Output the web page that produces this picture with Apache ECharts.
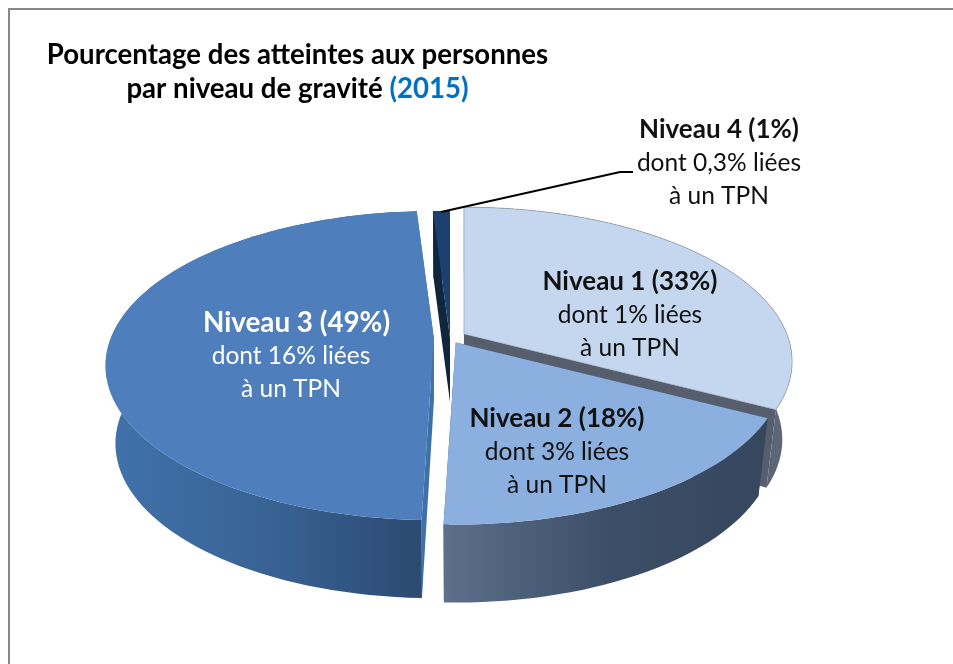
<!DOCTYPE html>
<html>
<head>
<meta charset="utf-8">
<style>
html, body { margin: 0; padding: 0; background: #fff; }
#chart { width: 953px; height: 664px; }
</style>
</head>
<body>
<div id="chart"></div>
<script src="https://cdn.jsdelivr.net/npm/echarts@6/dist/echarts.min.js"></script>
<script>
var categories = ['Niveau 1', 'Niveau 2', 'Niveau 3', 'Niveau 4'];
var values = [33, 18, 49, 1];
var tpnShares = ['1%', '3%', '16%', '0,3%'];

var FONT = 'Lato';
var center = [450, 338];
var radiusX = 323, radiusY = 149.6;   // ellipse of the top face
var perspective = 0.178;              // near rim looks bigger than far rim
var rimDepth = 78;                    // wall height on the outer rim
var apexDepth = 64;                   // wall height at the slice apex
var bottomScale = 0.97;               // bottom face is a bit narrower
var explode = [0.055, 0.03, 0.05, 0];
var paintOrder = [2, 3, 1, 4];        // z2 of each slice, far ones first

var topColors = ['#c5d7ef', '#8bb0df', '#4e7fbc', '#1c4070'];
var topStrokes = ['rgba(110,120,135,0.45)', null, null, null];
var cutColors = ['#565e6d', '#3d4f68', '#3f70a8', '#10263f'];
var wallColors = [
    ['#4a5361', '#4a5361', '#5f6876'],
    ['#5c708c', '#3d4f68', '#35465d'],
    ['#4072aa', '#396395', '#2c4a72'],
    ['#10263f', '#10263f', '#10263f']
];
var labelPos = [[630, 315], [557, 452], [291, 356], [719, 163]];
var labelColors = ['#111', '#111', '#fff', '#111'];
var boldSizes = [26, 26, 27.8, 26];
var boldShift = [0, 0, 11, 0];        // the Niveau 3 headline sits right of its lines

var total = values.reduce(function (a, b) { return a + b; }, 0);

function project(deg) {
    var rad = deg * Math.PI / 180;
    var X = Math.sin(rad), Z = -Math.cos(rad);
    var s = 1 / (1 - perspective * Z);
    return { x: radiusX * X * s, y: radiusY * Z * s, s: s };
}

// point of the top face, relative to the slice apex
function topPoint(apex, deg) {
    var p = project(deg);
    return [apex[0] + p.x, apex[1] + p.y];
}

function bottomPoint(apex, deg) {
    var p = project(deg);
    return [apex[0] + p.x * bottomScale, apex[1] + p.y + rimDepth * Math.min(p.s, 1)];
}

function arc(fn, apex, from, to) {
    var pts = [];
    var steps = Math.max(2, Math.ceil((to - from) / 2));
    for (var i = 0; i <= steps; i++) {
        pts.push(fn(apex, from + (to - from) * i / steps));
    }
    return pts;
}

function cutFace(apex, deg, color, z2) {
    return {
        type: 'polygon',
        z2: z2,
        shape: { points: [
            [apex[0], apex[1]],
            topPoint(apex, deg),
            bottomPoint(apex, deg),
            [apex[0], apex[1] + apexDepth]
        ] },
        style: { fill: color }
    };
}

function renderSlice(params, api) {
    var i = params.dataIndex;
    var before = 0;
    for (var j = 0; j < i; j++) before += values[j];
    var from = before / total * 360;
    var to = (before + api.value(0)) / total * 360;
    var mid = project((from + to) / 2);
    var apex = [center[0] + explode[i] * mid.x, center[1] + explode[i] * mid.y];
    var z = paintOrder[i] * 10;

    var rimTop = arc(topPoint, apex, from, to);
    var rimBottom = arc(bottomPoint, apex, from, to).reverse();
    var stops = wallColors[i];

    return {
        type: 'group',
        children: [
            cutFace(apex, from, cutColors[i], z),
            cutFace(apex, to, cutColors[i], z),
            {
                type: 'polygon',
                z2: z + 1,
                shape: { points: rimTop.concat(rimBottom) },
                style: {
                    fill: new echarts.graphic.LinearGradient(0, 0, 1, 0, [
                        { offset: 0, color: stops[0] },
                        { offset: 0.5, color: stops[1] },
                        { offset: 1, color: stops[2] }
                    ])
                }
            },
            {
                type: 'polygon',
                z2: z + 2,
                shape: { points: [apex].concat(rimTop) },
                style: { fill: topColors[i], stroke: topStrokes[i], lineWidth: 1 }
            },
            {
                type: 'text',
                z2: 100,
                style: {
                    x: labelPos[i][0],
                    y: labelPos[i][1],
                    align: 'center',
                    verticalAlign: 'middle',
                    text: '{b|' + categories[i] + ' (' + api.value(0) + '%)}\n' +
                        '{n|dont ' + tpnShares[i] + ' liées}\n{n|à un TPN}',
                    fill: labelColors[i],
                    rich: {
                        b: {
                            fontFamily: FONT, fontSize: boldSizes[i], fontWeight: 'bold', lineHeight: 33,
                            fill: labelColors[i], align: 'center', padding: [0, 0, 0, boldShift[i]]
                        },
                        n: { fontFamily: FONT, fontSize: 24.5, lineHeight: 33, fill: labelColors[i], align: 'center' }
                    }
                }
            }
        ]
    };
}

var chart = echarts.init(document.getElementById('chart'));

chart.setOption({
    animation: false,
    backgroundColor: '#fff',
    title: {
        left: 292.5,
        top: 33,
        textAlign: 'center',
        text: '{t|Pourcentage des atteintes aux personnes}\n{t|par niveau de gravité }{y|(2015)}',
        textStyle: {
            rich: {
                t: { fontFamily: FONT, fontSize: 27.6, fontWeight: 'bold', color: '#000', lineHeight: 34 },
                y: { fontFamily: FONT, fontSize: 27.6, fontWeight: 'bold', color: '#0070c0', lineHeight: 34 }
            }
        }
    },
    graphic: [
        { type: 'rect', shape: { x: 8, y: 8, width: 945, height: 2 }, style: { fill: '#888' } },
        { type: 'rect', shape: { x: 8, y: 8, width: 2, height: 656 }, style: { fill: '#888' } },
        {
            type: 'polyline',
            z: 10,
            shape: { points: [[441, 212], [620, 172], [633, 172]] },
            style: { stroke: '#000', lineWidth: 2, fill: null }
        }
    ],
    series: [{
        type: 'custom',
        coordinateSystem: 'none',
        silent: true,
        renderItem: renderSlice,
        data: values.map(function (v) { return [v]; })
    }]
});
</script>
</body>
</html>
